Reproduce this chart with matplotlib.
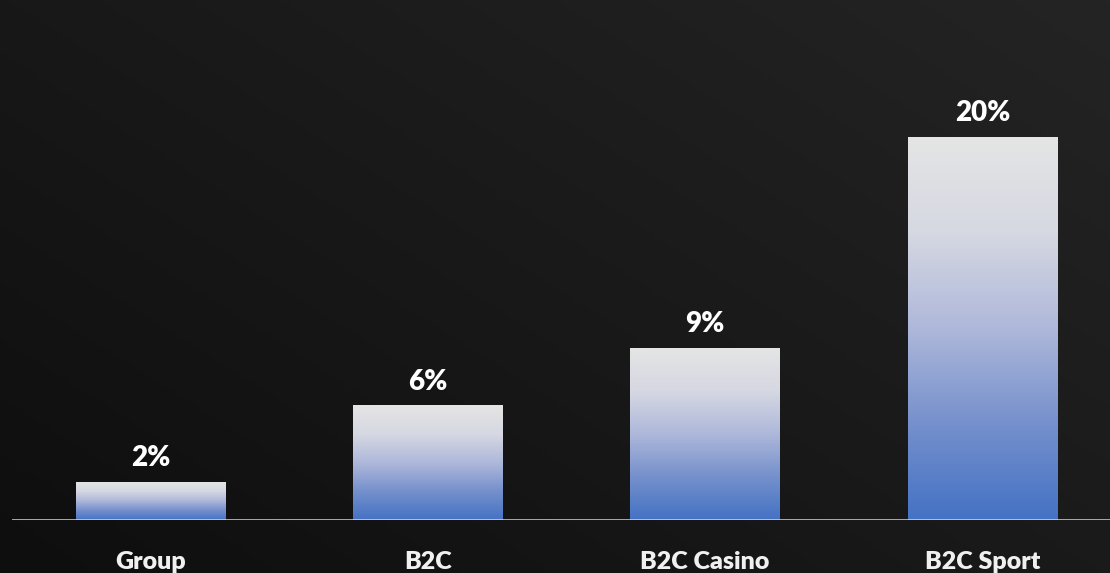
import numpy as np
import matplotlib.pyplot as plt
from matplotlib.colors import LinearSegmentedColormap

categories = ['Group', 'B2C', 'B2C Casino', 'B2C Sport']
values = [2, 6, 9, 20]
value_labels = ['2%', '6%', '9%', '20%']

plt.rcParams['font.family'] = ['Lato', 'DejaVu Sans']

fig = plt.figure(figsize=(11.1, 5.73), dpi=100)

# dark diagonal background, a bit lighter toward the top right
bg = fig.add_axes([0, 0, 1, 1], zorder=0)
yy, xx = np.mgrid[0:1:200j, 0:1:400j]
shade = 0.55 * xx + 0.45 * yy
bg_cmap = LinearSegmentedColormap.from_list('bg', ['#0e0e0e', '#242424'])
bg.imshow(shade, cmap=bg_cmap, origin='lower', extent=[0, 1, 0, 1], aspect='auto')
bg.set_axis_off()

ax = fig.add_axes([12 / 1110, 53 / 573, 1 - 12 / 1110, 520 / 573], zorder=1)
ax.patch.set_alpha(0)

bar_cmap = LinearSegmentedColormap.from_list(
    'bar', [(0.0, '#4472c4'), (0.25, '#7590cc'), (0.5, '#aeb8da'),
            (0.75, '#d6d8e2'), (1.0, '#e5e5e5')])
grad = np.linspace(0, 1, 256).reshape(-1, 1)

x = np.arange(len(categories))
bars = ax.bar(x, values, width=0.54, color='none', edgecolor='none')
for rect, lab in zip(bars, value_labels):
    x0, w, h = rect.get_x(), rect.get_width(), rect.get_height()
    im = ax.imshow(grad, cmap=bar_cmap, origin='lower', aspect='auto',
                   extent=[x0, x0 + w, 0, h], zorder=2)
    im.set_clip_path(rect)
    ax.text(x0 + w / 2, h + 0.55, lab, ha='center', va='bottom',
            fontsize=20, fontweight='heavy', color='white')

ax.set_xlim(-0.5, 3.46)
ax.set_ylim(0, 27.15)
ax.axhline(0, color='#d6d6d6', lw=1.8, zorder=3)

ax.set_xticks(x)
ax.set_xticklabels(categories, fontsize=18, fontweight='heavy', color='#f0f0f0')
ax.tick_params(axis='x', length=0, pad=22)
ax.set_yticks([])
for s in ax.spines.values():
    s.set_visible(False)

fig.savefig('out.png', dpi=100)
